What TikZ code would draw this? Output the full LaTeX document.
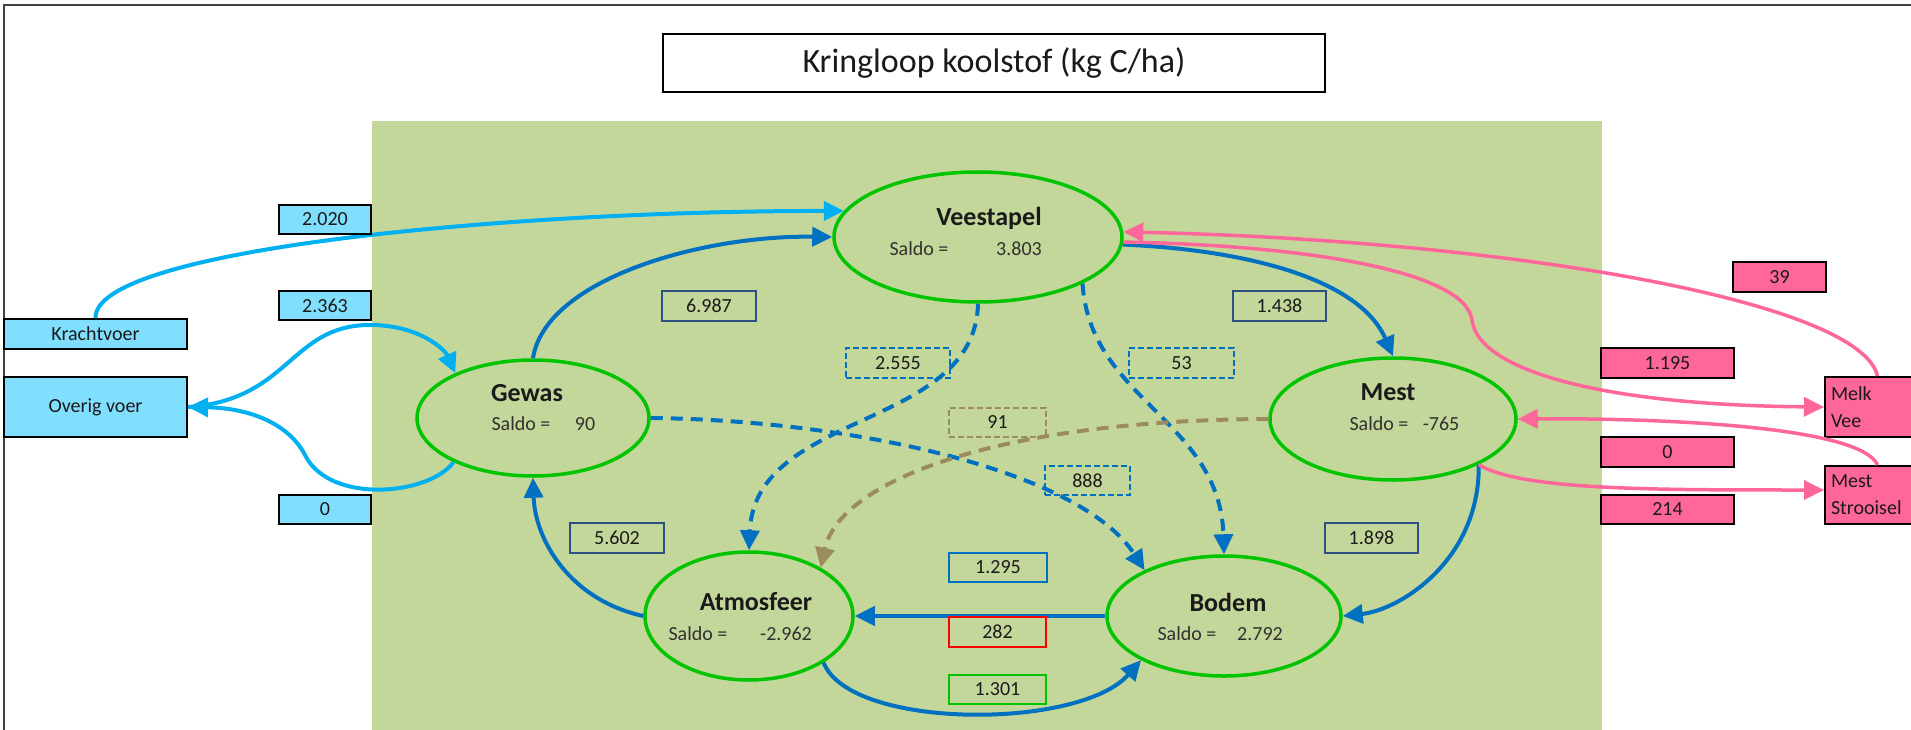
\documentclass[tikz,border=0pt]{standalone}
\usepackage{fontspec}
\setmainfont{Carlito}
\usetikzlibrary{shapes.geometric,arrows.meta}

\definecolor{fieldgreen}{HTML}{C4D79B}
\definecolor{ringgreen}{HTML}{00C400}
\definecolor{feedblue}{HTML}{00B0F0}
\definecolor{feedfill}{HTML}{80DFFF}
\definecolor{flowblue}{HTML}{0070C0}
\definecolor{exportpink}{HTML}{FF6699}
\definecolor{humus}{HTML}{9A8C5C}
\definecolor{navyline}{HTML}{2F4F80}
\definecolor{inkgray}{HTML}{1A1A1A}

\begin{document}
\begin{tikzpicture}[x=1pt,y=-1pt,
  tip/.style={-{Triangle[length=20pt,width=19pt]}},
  feed/.style={tip,draw=feedblue,line width=4pt},
  flow/.style={tip,draw=flowblue,line width=4pt},
  dashflow/.style={flow,dash pattern=on 12pt off 8pt},
  humusflow/.style={tip,draw=humus,line width=4pt,dash pattern=on 12pt off 8pt},
  pinkflow/.style={tip,draw=exportpink,line width=3.5pt},
  ring/.style={ellipse,draw=ringgreen,line width=3.5pt,inner sep=0pt},
  pool/.style={font=\fontsize{26}{30}\selectfont\bfseries,text=inkgray},
  saldo/.style={font=\fontsize{20}{24}\selectfont,text=inkgray!90},
  numbox/.style={draw=navyline,line width=1.6pt,minimum height=30pt,inner sep=0pt,
    font=\fontsize{20}{24}\selectfont,text=inkgray},
  dashbox/.style={numbox,dash pattern=on 6pt off 3pt},
  feedbox/.style={numbox,draw=black,fill=feedfill,line width=2pt},
  pinkbox/.style={numbox,draw=black,fill=exportpink,line width=2pt},
  sidebox/.style={pinkbox,align=left,text width=93pt,inner xsep=6pt,
    font=\fontsize{20}{27}\selectfont}
]
\useasboundingbox (0,0) rectangle (1911,730);
\clip (0,0) rectangle (1911,730);

% page frame and farm area
\fill[white] (0,0) rectangle (1911,730);
\draw[line width=2pt,draw=black!75] (3.5,740) -- (3.5,5) -- (1920,5);
\fill[fieldgreen] (372,121) rectangle (1602,740);

% title
\node[draw=black,line width=1.8pt,fill=white,minimum width=662pt,minimum height=58pt,
  inner sep=0pt,font=\fontsize{34}{40}\selectfont,text=inkgray] (title) at (994,63)
  {Kringloop koolstof (kg C/ha)};

% pools
\node[ring,minimum width=288pt,minimum height=130pt] (veestapel) at (978,237) {};
\node[ring,minimum width=232pt,minimum height=116pt] (gewas) at (533,418) {};
\node[ring,minimum width=246pt,minimum height=122pt] (mest) at (1393,419) {};
\node[ring,minimum width=208pt,minimum height=128pt] (atmosfeer) at (749,616) {};
\node[ring,minimum width=234pt,minimum height=120pt] (bodem) at (1224,616) {};

\node[pool] (veestapelT) at (989,218) {Veestapel};
\node[saldo] (veestapelS) at (919,249) {Saldo =};
\node[saldo] (veestapelV) at (1019,249) {3.803};
\node[pool] (gewasT) at (527,393) {Gewas};
\node[saldo] (gewasS) at (521,424) {Saldo =};
\node[saldo] (gewasV) at (585,424) {90};
\node[pool] (mestT) at (1388,392) {Mest};
\node[saldo] (mestS) at (1379,424) {Saldo =};
\node[saldo] (mestV) at (1441,424) {-765};
\node[pool] (atmosfeerT) at (756,602) {Atmosfeer};
\node[saldo] (atmosfeerS) at (698,634) {Saldo =};
\node[saldo] (atmosfeerV) at (786,634) {-2.962};
\node[pool] (bodemT) at (1228,602) {Bodem};
\node[saldo] (bodemS) at (1187,634) {Saldo =};
\node[saldo] (bodemV) at (1260,634) {2.792};

% external sources and sinks
\node[feedbox,minimum width=183pt] (krachtvoer) at (95.5,334) {Krachtvoer};
\node[feedbox,minimum width=183pt,minimum height=60pt] (overig) at (95.5,407) {Overig voer};
\node[sidebox,minimum height=60pt] (melkvee) at (1877.5,407) {Melk\\Vee};
\node[sidebox,minimum height=58pt] (strooisel) at (1877.5,495) {Mest\\Strooisel};

% flows
\draw[feed] (krachtvoer.north) .. controls (94,250) and (500,211) .. (veestapel.169);
\draw[feed] (overig.east) .. controls (290,400) and (290,325) .. (370,325)
  .. controls (420,325) and (445,350) .. (gewas.150);
\draw[feed] (gewas.209) .. controls (430,495) and (330,505) .. (305,455)
  .. controls (289,424) and (250,408) .. (overig.east);

\draw[flow] (gewas.north) .. controls (545,280) and (700,235) .. (veestapel.180);
\draw[flow] (veestapel.-3) .. controls (1250,250) and (1360,280) .. (mest.north);
\draw[flow] (atmosfeer.west) .. controls (570,600) and (535,540) .. (gewas.south);
\draw[flow] (bodem.west) -- (atmosfeer.east);
\draw[flow] (atmosfeer.-32) .. controls (850,730) and (1080,730) .. (bodem.208);
\draw[flow] (mest.-28) .. controls (1480,560) and (1400,610) .. (bodem.east);

\draw[dashflow] (veestapel.south) .. controls (975,430) and (755,410) .. (atmosfeer.north);
\draw[dashflow] (veestapel.-24) .. controls (1090,400) and (1220,420) .. (bodem.north);
\draw[dashflow] (gewas.east) .. controls (850,420) and (1080,470) .. (bodem.150);
\draw[humusflow] (mest.west) .. controls (1000,420) and (840,480) .. (atmosfeer.34);

\draw[pinkflow] (melkvee.north) .. controls (1860,300) and (1500,240) .. (veestapel.2);
\draw[pinkflow] (veestapel.-2) .. controls (1300,245) and (1465,270) .. (1472,320)
  .. controls (1478,370) and (1600,405) .. (melkvee.west);
\draw[pinkflow] (strooisel.north) .. controls (1860,425) and (1650,418) .. (mest.east);
\draw[pinkflow] (mest.-28) .. controls (1520,490) and (1650,490) .. ([yshift=5pt]strooisel.west);

% flow values
\node[feedbox,minimum width=92pt,minimum height=29pt] (v2020) at (325,219.5) {2.020};
\node[feedbox,minimum width=92pt,minimum height=29pt] (v2363) at (325,305.5) {2.363};
\node[feedbox,minimum width=92pt,minimum height=29pt] (v0a) at (325,509.5) {0};
\node[numbox,minimum width=94pt] (v6987) at (709,306) {6.987};
\node[numbox,minimum width=93pt] (v1438) at (1279.5,306) {1.438};
\node[numbox,minimum width=94pt] (v5602) at (617,538) {5.602};
\node[numbox,minimum width=93pt] (v1898) at (1371.5,538) {1.898};
\node[dashbox,draw=flowblue,minimum width=104pt] (v2555) at (898,363) {2.555};
\node[dashbox,draw=flowblue,minimum width=105pt] (v53) at (1181.5,363) {53};
\node[dashbox,draw=humus,minimum width=97pt,minimum height=29pt] (v91) at (997.5,422.5) {91};
\node[dashbox,draw=flowblue,minimum width=85pt,minimum height=29pt] (v888) at (1087.5,480.5) {888};
\node[numbox,draw=flowblue,line width=2.2pt,minimum width=98pt,minimum height=29pt] (v1295) at (998,567.5) {1.295};
\node[numbox,draw=red,line width=1.8pt,minimum width=97pt] (v282) at (997.5,632) {282};
\node[numbox,draw=ringgreen,line width=1.8pt,minimum width=97pt,minimum height=29pt] (v1301) at (997.5,689.5) {1.301};
\node[pinkbox,minimum width=93pt] (v39) at (1779.5,277) {39};
\node[pinkbox,minimum width=133pt] (v1195) at (1667.5,363) {1.195};
\node[pinkbox,minimum width=133pt] (v0b) at (1667.5,452) {0};
\node[pinkbox,minimum width=133pt,minimum height=29pt] (v214) at (1667.5,509.5) {214};
\end{tikzpicture}
\end{document}
